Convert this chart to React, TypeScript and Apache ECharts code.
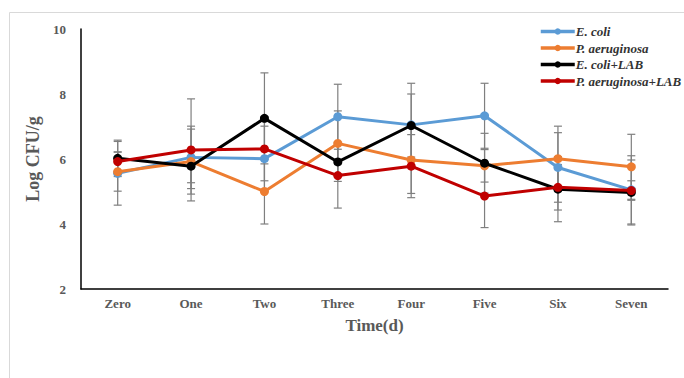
import React, { useEffect, useRef } from "react";
import * as echarts from "echarts";

const categories = ["Zero", "One", "Two", "Three", "Four", "Five", "Six", "Seven"];
const yTicks = [2, 4, 6, 8, 10];

const seriesNames = ["E. coli", "P. aeruginosa", "E. coli+LAB", "P. aeruginosa+LAB"];
const ecoli = [5.56, 6.05, 6.01, 7.3, 7.05, 7.33, 5.74, 5.05];
const paer = [5.61, 5.92, 5.0, 6.48, 5.97, 5.79, 6.01, 5.76];
const ecoliLab = [6.02, 5.78, 7.25, 5.91, 7.03, 5.87, 5.07, 4.97];
const paerLab = [5.92, 6.28, 6.31, 5.49, 5.78, 4.86, 5.13, 5.03];

const ecoliErr = [0.98, 0.96, 1.0, 1.0, 1.28, 1.0, 1.07, 1.05];
const paerErr = [0.6, 1.0, 1.0, 1.0, 1.03, 0.5, 1.0, 1.0];
const ecoliLabErr = [0.56, 0.51, 1.4, 0.6, 0.97, 0.92, 1.0, 1.0];
const paerLabErr = [0.3, 1.57, 0.98, 1.0, 0.97, 0.97, 0.7, 0.3];

const colors = ["#5B9BD5", "#ED7D31", "#000000", "#C00000"];
const FONT = "'Liberation Serif', 'Times New Roman', serif";

export default function App() {
  const ref = useRef<HTMLDivElement>(null);
  useEffect(() => {
    if (!ref.current) return;
    const chart = echarts.init(ref.current, null, { renderer: "svg" });
    const values = [ecoli, paer, ecoliLab, paerLab];
    const errs = [ecoliErr, paerErr, ecoliLabErr, paerLabErr];

    const errSeries = values.map((vals, s) => ({
      type: "custom",
      name: "err" + s,
      silent: true,
      z: 1,
      data: vals.map((v, i) => [i, v - errs[s][i], v + errs[s][i]]),
      encode: { x: 0, y: [1, 2] },
      renderItem: (params: any, api: any) => {
        const lo = api.coord([api.value(0), api.value(1)]);
        const hi = api.coord([api.value(0), api.value(2)]);
        const hw = 4;
        const style = { stroke: "#7F7F7F", lineWidth: 1.2 };
        return {
          type: "group",
          children: [
            { type: "line", shape: { x1: lo[0], y1: lo[1], x2: hi[0], y2: hi[1] }, style },
            { type: "line", shape: { x1: lo[0] - hw, y1: lo[1], x2: lo[0] + hw, y2: lo[1] }, style },
            { type: "line", shape: { x1: hi[0] - hw, y1: hi[1], x2: hi[0] + hw, y2: hi[1] }, style },
          ],
        };
      },
    }));

    const lineSeries = values.map((vals, s) => ({
      type: "line",
      name: seriesNames[s],
      data: vals,
      z: 3 + s,
      symbol: "circle",
      symbolSize: 9,
      itemStyle: { color: colors[s] },
      lineStyle: { color: colors[s], width: 3 },
    }));

    chart.setOption({
      animation: false,
      graphic: [
        {
          type: "rect",
          shape: { x: 9.5, y: 12.5, width: 720, height: 420 },
          style: { fill: "none", stroke: "#D9D9D9", lineWidth: 1 },
          silent: true,
        },
      ],
      legend: {
        data: seriesNames,
        orient: "vertical",
        left: 534,
        top: 18.5,
        itemWidth: 34,
        itemHeight: 8,
        itemGap: 0.5,
        lineStyle: { width: 3.5 },
        textStyle: {
          fontFamily: FONT,
          fontStyle: "italic",
          fontWeight: "bold",
          fontSize: 13,
          color: "#333333",
          lineHeight: 16,
          padding: [0, 0, 0, -4],
        },
      },
      grid: { left: 81, right: 16, top: 29, bottom: 89, containLabel: false },
      xAxis: {
        type: "category",
        data: categories,
        boundaryGap: true,
        name: "Time(d)",
        nameLocation: "middle",
        nameGap: 28,
        nameTextStyle: { fontFamily: FONT, fontWeight: "bold", fontSize: 17, color: "#595959" },
        axisLine: { lineStyle: { color: "#000000", width: 1.5 } },
        axisTick: { show: false },
        axisLabel: { fontFamily: FONT, fontWeight: "bold", fontSize: 13, color: "#595959", margin: 8 },
      },
      yAxis: {
        type: "value",
        min: yTicks[0],
        max: yTicks[yTicks.length - 1],
        interval: 2,
        name: "Log CFU/g",
        nameLocation: "middle",
        nameGap: 32,
        nameTextStyle: { fontFamily: FONT, fontWeight: "bold", fontSize: 18, color: "#595959" },
        axisLine: { show: true, lineStyle: { color: "#000000", width: 1.5 } },
        axisTick: { show: false },
        splitLine: { show: false },
        axisLabel: { fontFamily: FONT, fontWeight: "bold", fontSize: 13, color: "#595959", margin: 15 },
      },
      series: [...errSeries, ...lineSeries],
    });
    return () => chart.dispose();
  }, []);
  return (
    <div
      ref={ref}
      style={{ position: "fixed", left: 0, top: 0, width: 684, height: 378, background: "#fff" }}
    />
  );
}
